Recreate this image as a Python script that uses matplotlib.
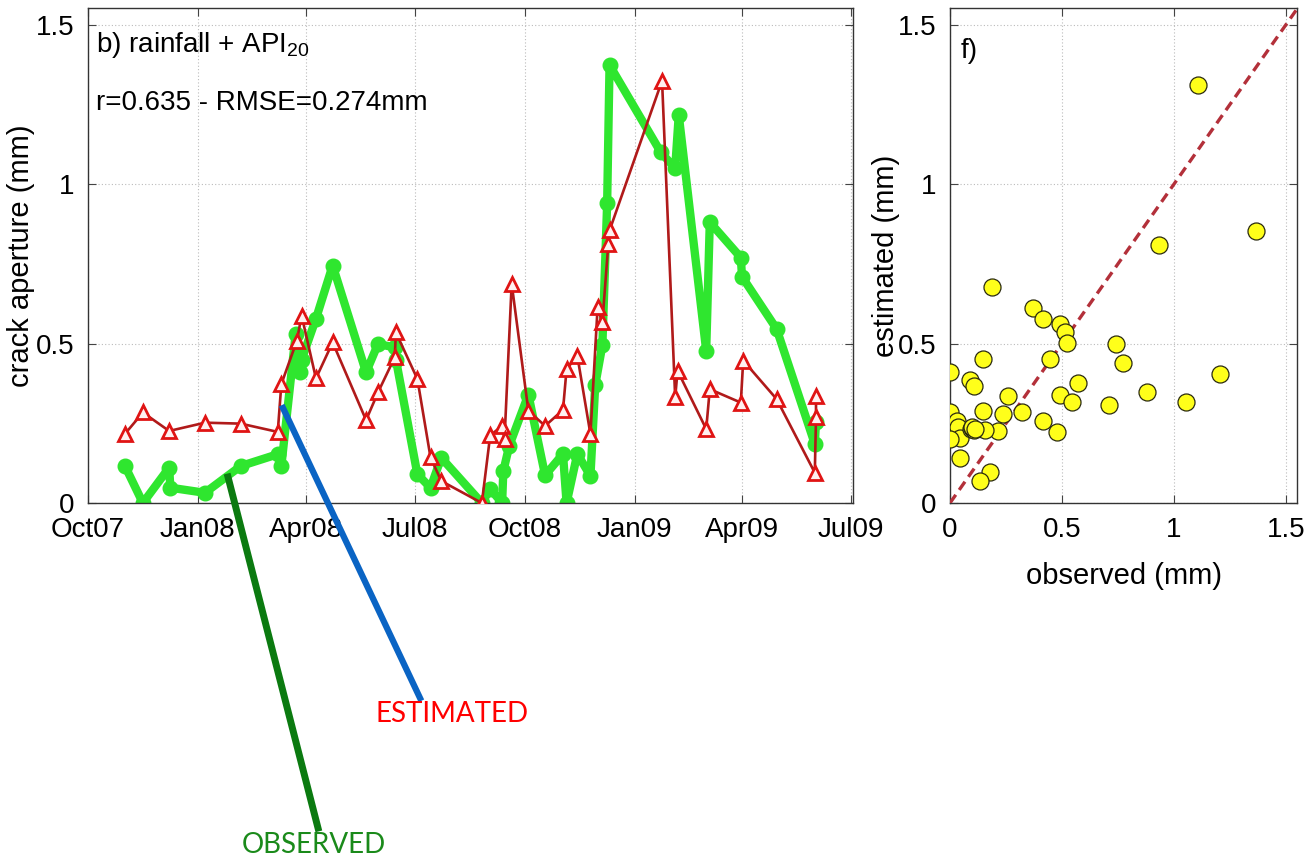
import matplotlib
matplotlib.use("Agg")
import matplotlib.pyplot as plt
import matplotlib.dates as mdates
from matplotlib.lines import Line2D
import pandas as pd

plt.rcParams['font.family'] = ['Liberation Sans', 'DejaVu Sans']
plt.rcParams['mathtext.fontset'] = 'custom'
plt.rcParams['mathtext.rm'] = 'Liberation Sans'

# Observed crack aperture (mm)
obs_dates = ["2007-11-01", "2007-11-16", "2007-12-08", "2007-12-09", "2008-01-07",
             "2008-02-06", "2008-03-08", "2008-03-11", "2008-03-23", "2008-03-27",
             "2008-03-28", "2008-04-09", "2008-04-23", "2008-05-21", "2008-05-31",
             "2008-06-14", "2008-06-15", "2008-07-03", "2008-07-14", "2008-07-23",
             "2008-08-26", "2008-09-02", "2008-09-12", "2008-09-13", "2008-09-18",
             "2008-10-04", "2008-10-18", "2008-11-02", "2008-11-05", "2008-11-14",
             "2008-11-25", "2008-11-29", "2008-12-05", "2008-12-09", "2008-12-11",
             "2009-01-23", "2009-02-04", "2009-02-07", "2009-03-02", "2009-03-05",
             "2009-03-31", "2009-04-01", "2009-04-30", "2009-06-01", "2009-06-02"]
obs_values = [0.116, 0.0, 0.111, 0.048, 0.032,
              0.116, 0.153, 0.116, 0.53, 0.41,
              0.45, 0.578, 0.745, 0.41, 0.499,
              0.488, 0.45, 0.09, 0.048, 0.142,
              0.0, 0.044, 0.0, 0.10, 0.18,
              0.34, 0.087, 0.154, 0.0, 0.154,
              0.085, 0.37, 0.495, 0.94, 1.374,
              1.10, 1.05, 1.217, 0.478, 0.881,
              0.77, 0.71, 0.546, 0.185, 0.255]

# Estimated crack aperture (mm), rainfall + API20 model
est_dates = ["2007-11-01", "2007-11-16", "2007-12-08", "2008-01-07", "2008-02-06",
             "2008-03-08", "2008-03-11", "2008-03-24", "2008-03-28", "2008-04-09",
             "2008-04-23", "2008-05-21", "2008-05-31", "2008-06-14", "2008-06-15",
             "2008-07-03", "2008-07-14", "2008-07-23", "2008-08-26", "2008-09-02",
             "2008-09-12", "2008-09-14", "2008-09-20", "2008-10-04", "2008-10-18",
             "2008-11-02", "2008-11-05", "2008-11-14", "2008-11-25", "2008-12-01",
             "2008-12-05", "2008-12-10", "2008-12-11", "2009-01-24", "2009-02-04",
             "2009-02-06", "2009-03-02", "2009-03-05", "2009-03-31", "2009-04-02",
             "2009-04-30", "2009-06-01", "2009-06-02", "2009-06-02"]
est_values = [0.217, 0.284, 0.226, 0.252, 0.249,
              0.223, 0.373, 0.509, 0.588, 0.391,
              0.504, 0.260, 0.347, 0.457, 0.535,
              0.389, 0.143, 0.069, 0.0, 0.212,
              0.242, 0.200, 0.688, 0.289, 0.242,
              0.292, 0.42, 0.462, 0.216, 0.614,
              0.567, 0.814, 0.855, 1.325, 0.331,
              0.415, 0.232, 0.357, 0.315, 0.447,
              0.326, 0.095, 0.27, 0.335]

# Observed vs estimated pairs for the scatter panel
sc_observed = [1.106, 1.369, 0.935, 0.186, 0.372, 0.414, 0.491, 0.513, 0.521, 0.741,
               0.146, 0.446, 0.771, 0.000, 1.208, 0.089, 0.107, 0.573, 0.878, 0.491,
               0.261, 0.543, 0.711, 1.052, 0.000, 0.149, 0.238, 0.320, 0.414, 0.479,
               0.216, 0.156, 0.030, 0.037, 0.045, 0.000, 0.095, 0.100, 0.105, 0.098,
               0.110, 0.045, 0.179, 0.134]
sc_estimated = [1.312, 0.852, 0.808, 0.677, 0.611, 0.577, 0.562, 0.538, 0.502, 0.499,
                0.453, 0.453, 0.439, 0.410, 0.405, 0.386, 0.366, 0.378, 0.347, 0.338,
                0.335, 0.316, 0.308, 0.316, 0.285, 0.288, 0.278, 0.287, 0.256, 0.224,
                0.225, 0.228, 0.256, 0.240, 0.205, 0.200, 0.232, 0.236, 0.228, 0.240,
                0.232, 0.140, 0.098, 0.068]

W, H = 1310, 859
fig = plt.figure(figsize=(W / 100, H / 100), dpi=100)


def px_axes(x0, y0, x1, y1):
    return fig.add_axes([x0 / W, 1 - y1 / H, (x1 - x0) / W, (y1 - y0) / H])


ax1 = px_axes(88, 8, 853, 503)
ax2 = px_axes(950, 8, 1297, 503)

tick_fs = 20
green = '#2fe62f'
for ax in (ax1, ax2):
    ax.tick_params(direction='in', top=True, right=True, labelsize=tick_fs,
                   length=6, width=0.8, color='#444444', pad=10)
    ax.grid(True, linestyle=(0, (1, 2)), color='#bbbbbb', linewidth=0.8)
    ax.set_axisbelow(True)
    for s in ax.spines.values():
        s.set_color('#333333')
        s.set_linewidth(1.0)

# Time series panel
od = pd.to_datetime(obs_dates)
ed = pd.to_datetime(est_dates)
ax1.plot(od, obs_values, color=green, lw=6, marker='o', ms=10.5,
         mfc=green, mec=green, zorder=2, solid_joinstyle='round')
ax1.plot(ed, est_values, color='#b01a1a', lw=1.9, marker='^', ms=10,
         mfc='#fff0f0', mec='#e01414', mew=2.0, zorder=3)
ax1.set_xlim(pd.Timestamp("2007-10-01"), pd.Timestamp("2009-07-03"))
ax1.set_ylim(0, 1.553)
ax1.set_yticks([0, 0.5, 1, 1.5])
ax1.set_yticklabels(['0', '0.5', '1', '1.5'])
ax1.xaxis.set_major_locator(mdates.MonthLocator(bymonth=[1, 4, 7, 10]))
ax1.xaxis.set_major_formatter(mdates.DateFormatter('%b%y'))
ax1.set_ylabel('crack aperture (mm)', fontsize=21)
ax1.yaxis.set_label_coords(-0.069, 0.5)
ax1.text(0.01, 0.955, r'b) rainfall + API$_{\mathregular{20}}$', transform=ax1.transAxes,
         fontsize=20, va='top', ha='left')
ax1.text(0.01, 0.835, 'r=0.635 - RMSE=0.274mm', transform=ax1.transAxes,
         fontsize=20, va='top', ha='left')

# Scatter panel
ax2.plot([0, 1.55], [0, 1.55], color='#b3303a', lw=2.4, dashes=(3, 1.8), zorder=3)
ax2.scatter(sc_observed, sc_estimated, s=150, c='#ffff1a', edgecolors='#2a2a10',
            linewidths=0.9, zorder=4)
ax2.set_xlim(0, 1.55)
ax2.set_ylim(0, 1.553)
ax2.set_xticks([0, 0.5, 1, 1.5])
ax2.set_xticklabels(['0', '0.5', '1', '1.5'])
ax2.set_yticks([0, 0.5, 1, 1.5])
ax2.set_yticklabels(['0', '0.5', '1', '1.5'])
ax2.set_xlabel('observed (mm)', fontsize=21)
ax2.xaxis.set_label_coords(0.5, -0.12)
ax2.set_ylabel('estimated (mm)', fontsize=21)
ax2.yaxis.set_label_coords(-0.145, 0.5)
ax2.text(0.03, 0.94, 'f)', transform=ax2.transAxes, fontsize=20, va='top', ha='left')

# Callout lines and labels below the time series
fig.add_artist(Line2D([283 / W, 420 / W], [1 - 408 / H, 1 - 698 / H],
                      color='#0a64c4', lw=4.5, transform=fig.transFigure))
fig.add_artist(Line2D([228 / W, 318 / W], [1 - 477 / H, 1 - 828 / H],
                      color='#0b7a10', lw=5, transform=fig.transFigure))
fig.text(452 / W, 1 - 714 / H, 'ESTIMATED', color='#ff0000', fontsize=20,
         family=['Lato', 'DejaVu Sans'], ha='center', va='center')
fig.text(314 / W, 1 - 845 / H, 'OBSERVED', color='#1a8a1a', fontsize=20,
         family=['Lato', 'DejaVu Sans'], ha='center', va='center')

fig.savefig('out.png', dpi=100, facecolor='white')
